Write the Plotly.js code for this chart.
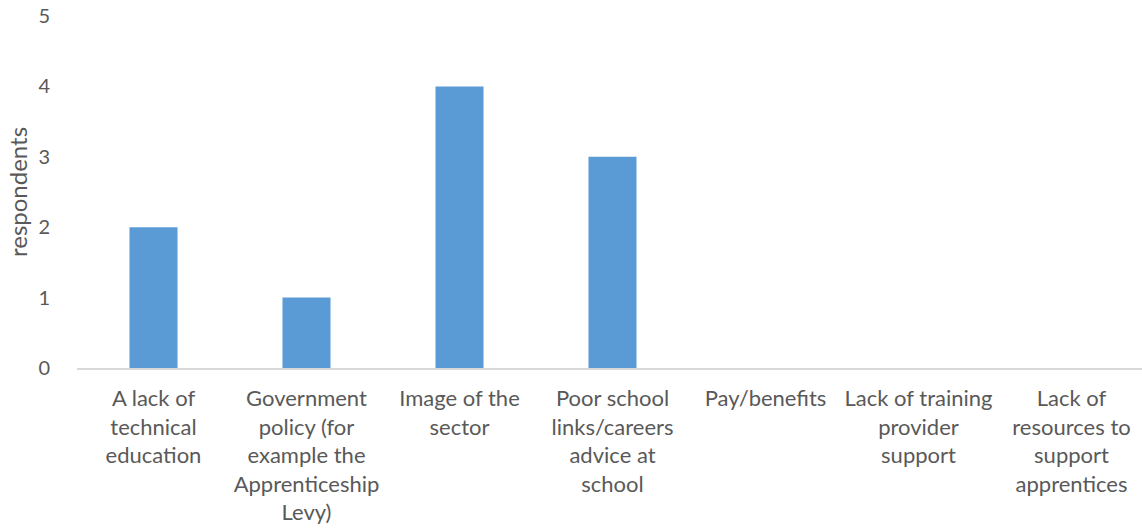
<!DOCTYPE html>
<html>
<head>
<meta charset="utf-8">
<script src="https://cdn.plot.ly/plotly-3.0.1.min.js"></script>
<style>
html,body{margin:0;padding:0;overflow:hidden;background:#fff;}
#chart{width:1148px;height:528px;}
</style>
</head>
<body>
<div id="chart"></div>
<script>
const categories = [
  "A lack of<br>technical<br>education",
  "Government<br>policy (for<br>example the<br>Apprenticeship<br>Levy)",
  "Image of the<br>sector",
  "Poor school<br>links/careers<br>advice at<br>school",
  "Pay/benefits",
  "Lack of training<br>provider<br>support",
  "Lack of<br>resources to<br>support<br>apprentices"
];
const respondents = [2, 1, 4, 3, 0, 0, 0];
const yTicks = [0, 1, 2, 3, 4, 5];

const textColor = "#595959";
const fontFamily = "Lato, 'Open Sans', sans-serif";

const trace = {
  type: "bar",
  x: categories,
  y: respondents,
  marker: {color: "#5B9BD5"},
  hoverinfo: "none"
};

const layout = {
  width: 1148,
  height: 528,
  margin: {l: 77, r: 0, t: 16, b: 160},
  paper_bgcolor: "#ffffff",
  plot_bgcolor: "#ffffff",
  bargap: 0.686,
  showlegend: false,
  font: {family: fontFamily, color: textColor, size: 22},
  xaxis: {
    type: "category",
    showgrid: false,
    showline: true,
    linecolor: "#D9D9D9",
    linewidth: 1.5,
    ticks: "outside",
    ticklen: 10,
    tickcolor: "rgba(0,0,0,0)",
    tickfont: {family: fontFamily, color: textColor, size: 22},
    tickangle: 0,
    zeroline: false
  },
  yaxis: {
    range: [0, 5],
    tickvals: yTicks,
    ticktext: yTicks.map(String),
    showgrid: false,
    showline: false,
    zeroline: false,
    ticks: "outside",
    ticklen: 22,
    tickcolor: "rgba(0,0,0,0)",
    tickfont: {family: fontFamily, color: textColor, size: 20},
    title: {text: "respondents", font: {family: fontFamily, color: textColor, size: 24}, standoff: 3}
  }
};

Plotly.newPlot("chart", [trace], layout, {staticPlot: true, displayModeBar: false});
</script>
</body>
</html>
